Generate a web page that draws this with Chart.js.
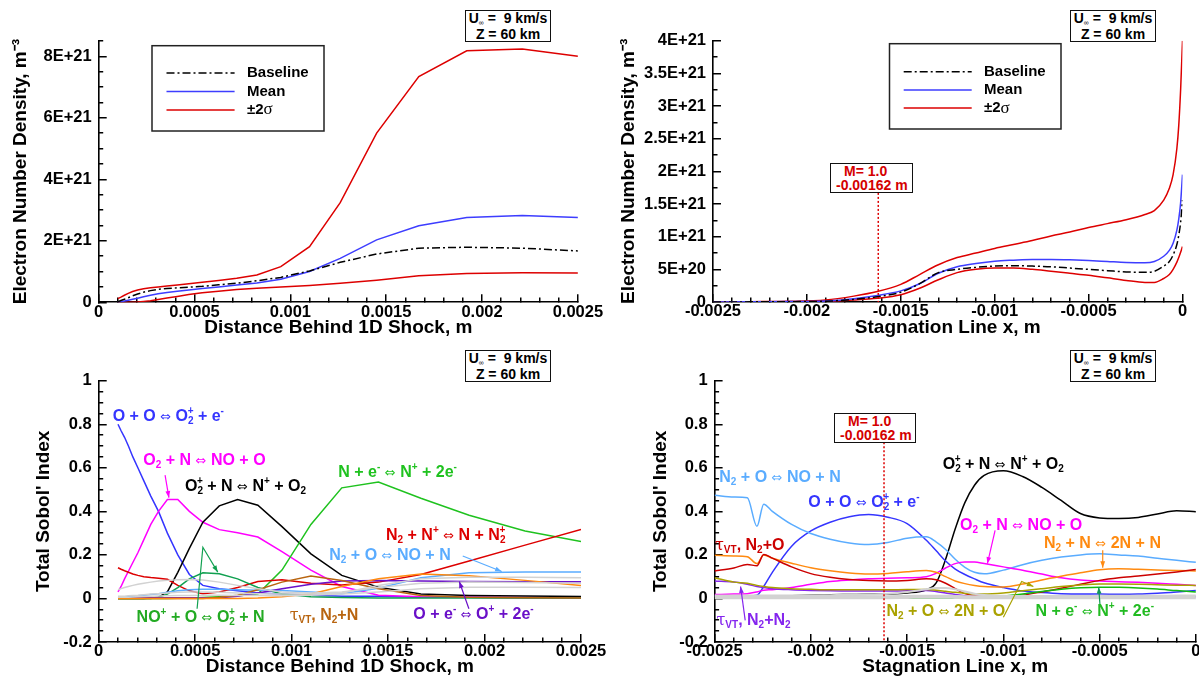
<!DOCTYPE html>
<html>
<head>
<meta charset="utf-8">
<title>Electron number density and total Sobol' indices</title>
<script src="https://cdn.jsdelivr.net/npm/chart.js@4/dist/chart.umd.min.js"></script>
<style>
html,body{margin:0;padding:0;background:#fff;}
#fig{position:relative;width:1199px;height:679px;overflow:hidden;background:#fff;
  font-family:'Liberation Sans',Arial,Helvetica,sans-serif;}
#fig canvas{position:absolute;}
.lbl{position:absolute;font-weight:bold;font-size:16px;line-height:16px;white-space:nowrap;}
.lbl sub,.lbl sup,.info sub{position:relative;vertical-align:baseline;line-height:0;font-size:10px;}
.lbl sup{top:-7px;}
.lbl sub{top:3px;}
.lbl .k{margin-left:-6px;}
.ar{font-family:'DejaVu Sans',sans-serif;font-weight:normal;font-size:13px;line-height:0;}
.tau{font-family:'DejaVu Serif','Liberation Serif',serif;font-weight:normal;line-height:0;}
.info{position:absolute;box-sizing:border-box;width:86px;height:32px;border:1.5px solid #111;background:#fff;
  font-weight:bold;font-size:14px;line-height:15.5px;text-align:center;}
.info sub{font-size:7px;top:2px;font-weight:normal;}
.mach{position:absolute;box-sizing:border-box;border:1.5px solid #111;background:#fff;color:#d40000;
  font-weight:bold;font-size:14px;line-height:14px;white-space:nowrap;}
</style>
</head>
<body>
<div id="fig">
  <canvas id="neShock" width="620" height="340" style="left:0;top:0"></canvas>
  <canvas id="neStag" width="599" height="340" style="left:600px;top:0"></canvas>
  <canvas id="sobolShock" width="620" height="339" style="left:0;top:340px"></canvas>
  <canvas id="sobolStag" width="599" height="339" style="left:600px;top:340px"></canvas>
</div>
<script>
const FONT = "'Liberation Sans', Arial, Helvetica, sans-serif";
const fig = document.getElementById('fig');

// ---------- electron number density behind the 1D shock (1e21 m^-3)
const shockX = [0.0001, 0.000116, 0.000134, 0.000154, 0.000177, 0.000203, 0.000234, 0.00027,
  0.00031, 0.000356, 0.00041, 0.00047, 0.00054, 0.000625, 0.00072, 0.000825, 0.00095, 0.0011,
  0.00126, 0.00145, 0.00167, 0.00192, 0.00221, 0.0025];
const neBaseShock = [0.02, 0.06, 0.10, 0.15, 0.21, 0.27, 0.33, 0.38, 0.42, 0.45, 0.47, 0.49,
  0.52, 0.57, 0.62, 0.70, 0.81, 1.02, 1.30, 1.57, 1.76, 1.79, 1.76, 1.67];
const neMeanShock = [0.0, 0.02, 0.04, 0.07, 0.10, 0.13, 0.18, 0.23, 0.28, 0.32, 0.36, 0.40,
  0.45, 0.50, 0.56, 0.63, 0.75, 1.00, 1.43, 2.03, 2.49, 2.76, 2.82, 2.76];
const neHiShock = [0.12, 0.17, 0.23, 0.29, 0.35, 0.40, 0.44, 0.47, 0.50, 0.53, 0.56, 0.60,
  0.65, 0.71, 0.78, 0.89, 1.16, 1.81, 3.24, 5.50, 7.34, 8.18, 8.24, 8.00];
const neLoShock = [0.0, 0.0, 0.0, 0.0, 0.0, 0.01, 0.03, 0.05, 0.09, 0.14, 0.19, 0.25,
  0.31, 0.36, 0.42, 0.46, 0.50, 0.55, 0.62, 0.72, 0.86, 0.94, 0.96, 0.95];

// ---------- electron number density along the stagnation line (1e21 m^-3)
const stagX = [-0.0025, -0.0023, -0.0021, -0.0019, -0.00175, -0.001625, -0.0015, -0.0014,
  -0.0013, -0.0012, -0.0011, -0.001, -0.0009, -0.0008, -0.0007, -0.0006, -0.0005, -0.0004,
  -0.0003, -0.0002, -0.00015, -0.0001, -0.00007, -0.00005, -0.00003, -0.00002, -0.00001, 0];
const neBaseStag = [0, 0.002, 0.005, 0.012, 0.04, 0.08, 0.15, 0.28, 0.45, 0.50, 0.53, 0.55,
  0.556, 0.55, 0.54, 0.52, 0.50, 0.48, 0.46, 0.455, 0.47, 0.55, 0.62, 0.72, 0.88, 1.02, 1.22, 1.56];
const neMeanStag = [0, 0.003, 0.006, 0.015, 0.05, 0.10, 0.17, 0.28, 0.44, 0.54, 0.59, 0.625,
  0.64, 0.65, 0.65, 0.645, 0.635, 0.62, 0.605, 0.60, 0.62, 0.70, 0.79, 0.90, 1.10, 1.27, 1.52, 1.95];
const neHiStag = [0, 0.005, 0.01, 0.03, 0.09, 0.16, 0.27, 0.42, 0.57, 0.68, 0.75, 0.82,
  0.88, 0.94, 1.01, 1.07, 1.14, 1.20, 1.26, 1.34, 1.40, 1.56, 1.74, 1.95, 2.35, 2.70, 3.25, 4.0];
const neLoStag = [0, 0.002, 0.004, 0.01, 0.03, 0.056, 0.11, 0.21, 0.34, 0.45, 0.50, 0.52,
  0.52, 0.50, 0.47, 0.44, 0.41, 0.37, 0.33, 0.30, 0.30, 0.36, 0.42, 0.50, 0.61, 0.68, 0.76, 0.85];

// ---------- total Sobol' indices behind the 1D shock (same x as shockX)
const siOOShock = [0.80, 0.77, 0.74, 0.70, 0.65, 0.60, 0.54, 0.47, 0.40, 0.30, 0.20, 0.11,
  0.06, 0.045, 0.035, 0.025, 0.02, 0.015, 0.01, 0.01, 0.005, 0.005, 0.003, 0.003];
const siO2NShock = [0.03, 0.055, 0.09, 0.125, 0.165, 0.21, 0.27, 0.34, 0.40, 0.454, 0.454, 0.40,
  0.35, 0.316, 0.302, 0.282, 0.215, 0.13, 0.055, 0.015, 0.008, 0.005, 0.004, 0.004];
const siO2pNShock = [0, 0, 0, 0, 0, 0, 0, 0.002, 0.006, 0.03, 0.12, 0.23,
  0.35, 0.425, 0.454, 0.428, 0.33, 0.205, 0.106, 0.052, 0.021, 0.014, 0.011, 0.009];
const siNeShock = [0, 0, 0, 0, 0, 0, 0, 0, 0, 0, 0.001, 0.002,
  0.004, 0.008, 0.012, 0.02, 0.13, 0.34, 0.508, 0.535, 0.46, 0.382, 0.31, 0.262];
const siN2NpShock = [0.141, 0.134, 0.127, 0.12, 0.112, 0.106, 0.10, 0.096, 0.093, 0.088, 0.06, 0.035,
  0.022, 0.03, 0.05, 0.078, 0.086, 0.07, 0.062, 0.075, 0.11, 0.172, 0.245, 0.317];
const siNOpShock = [0, 0, 0, 0, 0, 0, 0, 0, 0.005, 0.02, 0.05, 0.09,
  0.118, 0.113, 0.09, 0.05, 0.02, 0.008, 0.004, 0.002, 0.002, 0.002, 0.002, 0.002];
const siN2OShock = [0.003, 0.005, 0.006, 0.008, 0.01, 0.012, 0.015, 0.018, 0.022, 0.028, 0.035, 0.04,
  0.042, 0.042, 0.04, 0.038, 0.037, 0.03, 0.022, 0.047, 0.095, 0.118, 0.122, 0.122];
const siN2NShock = [0, 0, 0, 0, 0, 0, 0, 0, 0, 0, 0, 0,
  0, 0, 0, 0.002, 0.008, 0.02, 0.055, 0.09, 0.112, 0.104, 0.083, 0.06];
const siTauN2NShock = [0, 0, 0, 0, 0, 0, 0, 0, 0, 0, 0, 0,
  0, 0.005, 0.015, 0.04, 0.075, 0.103, 0.082, 0.045, 0.014, 0.005, 0.003, 0.002];
const siOeShock = [0.003, 0.003, 0.003, 0.003, 0.003, 0.003, 0.003, 0.003, 0.003, 0.003, 0.003, 0.003,
  0.003, 0.003, 0.01, 0.025, 0.045, 0.065, 0.08, 0.083, 0.08, 0.078, 0.077, 0.077];
const siOtherShockA = [0.04, 0.045, 0.05, 0.055, 0.06, 0.065, 0.07, 0.075, 0.08, 0.083, 0.086, 0.087,
  0.085, 0.075, 0.06, 0.045, 0.03, 0.025, 0.03, 0.05, 0.07, 0.075, 0.073, 0.07];
const siOtherShockB = [0.01, 0.01, 0.01, 0.012, 0.014, 0.015, 0.017, 0.02, 0.022, 0.025, 0.028, 0.03,
  0.03, 0.028, 0.025, 0.022, 0.02, 0.02, 0.025, 0.06, 0.09, 0.097, 0.097, 0.095];
const siOtherShockC = [0.005, 0.005, 0.006, 0.006, 0.007, 0.008, 0.009, 0.01, 0.011, 0.012, 0.013, 0.014,
  0.015, 0.015, 0.014, 0.013, 0.012, 0.015, 0.02, 0.03, 0.045, 0.052, 0.052, 0.05];

// ---------- total Sobol' indices along the stagnation line
const sobStagX = [-0.0025, -0.0024, -0.00233, -0.00228, -0.002245, -0.0022, -0.0021, -0.002,
  -0.0019, -0.0018, -0.0017, -0.0016, -0.0015, -0.0014, -0.00135, -0.0013, -0.00125, -0.0012,
  -0.00115, -0.0011, -0.001, -0.0009, -0.0008, -0.0007, -0.0006, -0.0005, -0.0004, -0.0003,
  -0.0002, -0.0001, 0];
const siN2OStag = [0.474, 0.466, 0.462, 0.331, 0.433, 0.40, 0.34, 0.298, 0.272, 0.255, 0.248,
  0.257, 0.277, 0.283, 0.26, 0.225, 0.18, 0.143, 0.12, 0.113, 0.13, 0.155, 0.175, 0.19, 0.2,
  0.205, 0.2, 0.195, 0.185, 0.175, 0.166];
const siOOStag = [0.01, 0.01, 0.012, 0.015, 0.055, 0.12, 0.24, 0.31, 0.35, 0.375, 0.385,
  0.373, 0.344, 0.267, 0.22, 0.172, 0.135, 0.11, 0.09, 0.072, 0.05, 0.034, 0.027, 0.022, 0.02,
  0.02, 0.019, 0.02, 0.024, 0.03, 0.037];
const siO2pNStag = [0.005, 0.004, 0.003, 0.003, 0.004, 0.008, 0.012, 0.015, 0.017, 0.018, 0.019,
  0.02, 0.025, 0.04, 0.07, 0.18, 0.32, 0.44, 0.52, 0.565, 0.586, 0.56, 0.51, 0.45, 0.39,
  0.37, 0.367, 0.372, 0.388, 0.403, 0.398];
const siO2NStag = [0.018, 0.02, 0.022, 0.03, 0.038, 0.04, 0.05, 0.065, 0.078, 0.085, 0.09,
  0.093, 0.095, 0.1, 0.115, 0.14, 0.16, 0.167, 0.167, 0.16, 0.145, 0.13, 0.112, 0.095, 0.085,
  0.08, 0.077, 0.074, 0.07, 0.065, 0.06];
const siN2NStag = [0.198, 0.195, 0.192, 0.16, 0.2, 0.185, 0.162, 0.141, 0.127, 0.117, 0.112,
  0.115, 0.123, 0.128, 0.12, 0.1, 0.08, 0.068, 0.06, 0.055, 0.053, 0.066, 0.085, 0.102, 0.118,
  0.132, 0.136, 0.134, 0.131, 0.128, 0.126];
const siTauN2OStag = [0.126, 0.14, 0.156, 0.15, 0.202, 0.185, 0.145, 0.114, 0.097, 0.087, 0.082,
  0.08, 0.083, 0.09, 0.086, 0.07, 0.045, 0.022, 0.012, 0.008, 0.007, 0.015, 0.03, 0.047, 0.065,
  0.083, 0.095, 0.103, 0.112, 0.122, 0.133];
const siN2O2NStag = [0.095, 0.075, 0.07, 0.06, 0.055, 0.05, 0.045, 0.042, 0.04, 0.04, 0.04,
  0.04, 0.041, 0.041, 0.038, 0.033, 0.028, 0.024, 0.021, 0.02, 0.025, 0.035, 0.045, 0.055, 0.062,
  0.066, 0.066, 0.065, 0.063, 0.061, 0.06];
const siTauN2N2Stag = [0.08, 0.075, 0.065, 0.055, 0.05, 0.045, 0.04, 0.037, 0.035, 0.034, 0.034,
  0.034, 0.035, 0.036, 0.032, 0.025, 0.018, 0.012, 0.008, 0.005, 0.004, 0.004, 0.005, 0.005, 0.006,
  0.006, 0.006, 0.007, 0.007, 0.008, 0.008];
const siNeStag = [0.002, 0.002, 0.002, 0.002, 0.002, 0.002, 0.002, 0.002, 0.002, 0.002, 0.002,
  0.002, 0.002, 0.002, 0.002, 0.002, 0.002, 0.002, 0.002, 0.004, 0.01, 0.02, 0.032, 0.042, 0.049,
  0.052, 0.051, 0.048, 0.043, 0.036, 0.03];
const siOtherStagA = [0.006, 0.006, 0.006, 0.006, 0.006, 0.006, 0.006, 0.006, 0.006, 0.006, 0.006,
  0.006, 0.007, 0.008, 0.008, 0.008, 0.007, 0.006, 0.006, 0.005, 0.005, 0.005, 0.005, 0.005, 0.005,
  0.005, 0.005, 0.005, 0.005, 0.005, 0.005];
const siOtherStagB = [0.014, 0.014, 0.014, 0.014, 0.014, 0.014, 0.014, 0.014, 0.015, 0.016, 0.018,
  0.022, 0.03, 0.042, 0.048, 0.048, 0.042, 0.032, 0.022, 0.016, 0.012, 0.011, 0.011, 0.011, 0.011,
  0.012, 0.012, 0.012, 0.012, 0.013, 0.013];

// sonic point on the stagnation line
const sonicX = -0.00162;

// ---------- axes
const shockTicks = [0, 0.0005, 0.001, 0.0015, 0.002, 0.0025];
const shockTickLabels = ['0', '0.0005', '0.001', '0.0015', '0.002', '0.0025'];
const stagTicks = [-0.0025, -0.002, -0.0015, -0.001, -0.0005, 0];
const stagTickLabels = ['-0.0025', '-0.002', '-0.0015', '-0.001', '-0.0005', '0'];
const neTicksShock = [0, 2, 4, 6, 8];
const neTickLabelsShock = ['0', '2E+21', '4E+21', '6E+21', '8E+21'];
const neTicksStag = [0, 0.5, 1, 1.5, 2, 2.5, 3, 3.5, 4];
const neTickLabelsStag = ['0', '5E+20', '1E+21', '1.5E+21', '2E+21', '2.5E+21', '3E+21', '3.5E+21', '4E+21'];
const sobolTicks = [-0.2, 0, 0.2, 0.4, 0.6, 0.8, 1];
const sobolTickLabels = ['-0.2', '0', '0.2', '0.4', '0.6', '0.8', '1'];

const C = {
  blue: '#3535ff', mean: '#3d3dff', red: '#dd0000', magenta: '#ff00ff', green: '#1fc21f',
  teal: '#10a050', ltblue: '#5aacff', orange: '#ff8a10', brown: '#b8640f', purple: '#6a10c8',
  olive: '#aaa200', violet: '#8526ee', gray: '#d2d2d2'
};

// leader arrows from the reaction labels to their curves
const leaders = {
  id: 'leaders',
  afterDatasetsDraw(chart, args, o) {
    if (!o || !o.items) return;
    const {ctx, scales: {x, y}} = chart;
    ctx.save();
    ctx.lineWidth = 1.2;
    for (const it of o.items) {
      const pts = it.pts.map(([a, b]) => [x.getPixelForValue(a), y.getPixelForValue(b)]);
      ctx.strokeStyle = ctx.fillStyle = it.color;
      ctx.beginPath();
      pts.forEach(([px, py], i) => i ? ctx.lineTo(px, py) : ctx.moveTo(px, py));
      ctx.stroke();
      const [x1, y1] = pts[pts.length - 2], [x2, y2] = pts[pts.length - 1];
      const ang = Math.atan2(y2 - y1, x2 - x1);
      ctx.beginPath();
      ctx.moveTo(x2, y2);
      ctx.lineTo(x2 - 7 * Math.cos(ang - 0.35), y2 - 7 * Math.sin(ang - 0.35));
      ctx.lineTo(x2 - 7 * Math.cos(ang + 0.35), y2 - 7 * Math.sin(ang + 0.35));
      ctx.closePath();
      ctx.fill();
    }
    ctx.restore();
  }
};

// boxed legend placed inside the plot
const boxLegend = {
  id: 'boxLegend',
  afterDraw(chart, args, o) {
    if (!o || !o.rows) return;
    const ctx = chart.ctx;
    ctx.save();
    ctx.fillStyle = '#fff';
    ctx.fillRect(o.left, o.top, o.w, o.h);
    ctx.strokeStyle = '#222';
    ctx.lineWidth = 1.5;
    ctx.strokeRect(o.left, o.top, o.w, o.h);
    o.rows.forEach((r, i) => {
      const ds = chart.data.datasets[r];
      const yy = o.y0 + i * o.dy;
      ctx.strokeStyle = ds.borderColor;
      ctx.lineWidth = 1.5;
      ctx.setLineDash(ds.borderDash || []);
      ctx.beginPath();
      ctx.moveTo(o.x0, yy);
      ctx.lineTo(o.x1, yy);
      ctx.stroke();
      ctx.setLineDash([]);
      ctx.fillStyle = '#000';
      ctx.textBaseline = 'middle';
      let tx = o.tx;
      for (const ch of ds.label) {
        ctx.font = /[\u03b1-\u03c9]/.test(ch) ? "17px 'Liberation Serif', serif" : 'bold 15px ' + FONT;
        ctx.fillText(ch, tx, yy);
        tx += ctx.measureText(ch).width;
      }
    });
    ctx.restore();
  }
};

// dotted marker at the sonic point
const sonicLine = {
  id: 'sonicLine',
  afterDatasetsDraw(chart, args, o) {
    if (!o || o.x === undefined) return;
    const {ctx, chartArea: a, scales: {x, y}} = chart;
    const px = x.getPixelForValue(o.x);
    ctx.save();
    ctx.strokeStyle = C.red;
    ctx.lineWidth = 1.5;
    ctx.setLineDash([2, 2]);
    ctx.beginPath();
    ctx.moveTo(px, y.getPixelForValue(o.top));
    ctx.lineTo(px, a.bottom);
    ctx.stroke();
    ctx.restore();
  }
};

function line(label, xs, ys, color, extra) {
  return Object.assign({
    label, data: xs.map((x, i) => ({x, y: ys[i]})),
    borderColor: color, borderWidth: 1.5, pointRadius: 0, fill: false, tension: 0
  }, extra || {});
}
const smooth = {cubicInterpolationMode: 'monotone'};

// linear axis with labelled major ticks and unlabelled minor ticks, all pointing inward
function axis(dir, a, frame, canvasH, minor) {
  const tol = minor * 1e-3;
  const majorIndex = v => a.ticks.findIndex(t => Math.abs(t - v) < tol);
  const values = [];
  const n = Math.round((a.max - a.min) / minor);
  for (let i = 0; i <= n; i++) {
    const v = a.min + i * minor;
    const k = majorIndex(v);
    values.push(k < 0 ? v : a.ticks[k]);
  }
  const TL = 8;
  return {
    type: 'linear', min: a.min, max: a.max, bounds: 'data',
    grid: {
      display: true, drawOnChartArea: false, drawTicks: true, tickLength: -TL,
      color: '#000', lineWidth: 1.5, tickWidth: 1.5,
      // minor ticks: only the part next to the axis line is stroked
      tickBorderDash: c => (!c.tick || majorIndex(c.tick.value) >= 0) ? [] :
        (dir === 'x' ? [5, 40] : [0, 3.5, 40])
    },
    border: {display: true, color: '#000', width: 1.6},
    afterBuildTicks: s => { s.ticks = values.map(value => ({value})); },
    afterFit: s => {
      if (dir === 'x') s.height = canvasH - frame.bottom; else s.width = frame.left;
      s.paddingLeft = s.paddingRight = s.paddingTop = s.paddingBottom = 0;
    },
    ticks: {
      autoSkip: false, maxRotation: 0, minRotation: 0, padding: dir === 'x' ? TL : TL + 7, color: '#000',
      font: {family: FONT, size: 16.5, weight: 'bold'},
      callback: v => { const k = majorIndex(v); return k < 0 ? '' : a.labels[k]; }
    },
    title: {
      display: true, text: a.title, color: '#000',
      font: {family: FONT, size: 19, weight: 'bold'},
      padding: dir === 'x' ? {top: 0, bottom: a.titlePad} : {top: a.titlePad, bottom: 0}
    }
  };
}

function makeChart(id, frame, xa, ya, steps, datasets, extra) {
  const cv = document.getElementById(id);
  return new Chart(cv, {
    type: 'line',
    data: {datasets},
    options: {
      responsive: false, animation: false, events: [],
      layout: {autoPadding: false, padding: {left: 0, top: frame.top, right: cv.width - frame.right, bottom: 0}},
      plugins: Object.assign({legend: {display: false}, tooltip: {enabled: false}}, extra),
      scales: {
        x: axis('x', xa, frame, cv.height, steps.x),
        y: axis('y', ya, frame, cv.height, steps.y)
      }
    },
    plugins: [leaders, sonicLine, boxLegend]
  });
}

const neTitle = 'Electron Number Density, m\u207b\u00b3';
const sobolTitle = "Total Sobol' Index";
const shockAxis = {min: 0, max: 0.0025, ticks: shockTicks, labels: shockTickLabels,
  title: 'Distance Behind 1D Shock, m', titlePad: 0.5};
const stagAxis = {min: -0.0025, max: 0, ticks: stagTicks, labels: stagTickLabels,
  title: 'Stagnation Line x, m', titlePad: 0.5};
const dashDot = {borderDash: [8, 3, 2, 3]};

// top left: density behind the 1D shock
makeChart('neShock', {left: 98.7, right: 577.9, top: 40.9, bottom: 302.3}, shockAxis,
  {min: 0, max: 8.5, ticks: neTicksShock, labels: neTickLabelsShock, title: neTitle, titlePad: 9.6},
  {x: 0.0001, y: 0.5},
  [
    line('Baseline', shockX, neBaseShock, '#000', dashDot),
    line('Mean', shockX, neMeanShock, C.mean),
    line('\u00b12\u03c3', shockX, neHiShock, C.red),
    line('', shockX, neLoShock, C.red)
  ],
  {boxLegend: {left: 152, top: 45.7, w: 172, h: 85.3, x0: 166.5, x1: 234.6, tx: 247, y0: 73, dy: 18.5, rows: [0, 1, 2]}});

// top right: density along the stagnation line
makeChart('neStag', {left: 113, right: 582.5, top: 40.7, bottom: 302}, stagAxis,
  {min: 0, max: 4, ticks: neTicksStag, labels: neTickLabelsStag, title: neTitle, titlePad: 17.2},
  {x: 0.0001, y: 0.25},
  [
    line('Baseline', stagX, neBaseStag, '#000', Object.assign({}, dashDot, smooth)),
    line('Mean', stagX, neMeanStag, C.mean, smooth),
    line('\u00b12\u03c3', stagX, neHiStag, C.red, smooth),
    line('', stagX, neLoStag, C.red, smooth)
  ],
  {sonicLine: {x: sonicX, top: 1.67},
   boxLegend: {left: 289.5, top: 43.7, w: 171.5, h: 85.3, x0: 303.7, x1: 371.7, tx: 384, y0: 71.7, dy: 18.2, rows: [0, 1, 2]}});

// bottom left: Sobol' indices behind the 1D shock
makeChart('sobolShock', {left: 98.7, right: 581, top: 40.7, bottom: 302}, shockAxis,
  {min: -0.2, max: 1, ticks: sobolTicks, labels: sobolTickLabels, title: sobolTitle, titlePad: 32.6},
  {x: 0.0001, y: 0.05},
  [
    line('other A', shockX, siOtherShockA, C.gray),
    line('other B', shockX, siOtherShockB, C.gray),
    line('other C', shockX, siOtherShockC, C.gray),
    line('N2 + N <-> 2N + N', shockX, siN2NShock, C.orange),
    line('tauVT N2+N', shockX, siTauN2NShock, C.brown),
    line('O + e- <-> O+ + 2e-', shockX, siOeShock, C.purple),
    line('N2 + O <-> NO + N', shockX, siN2OShock, C.ltblue),
    line('NO+ + O <-> O2+ + N', shockX, siNOpShock, C.teal),
    line('N2 + N+ <-> N + N2+', shockX, siN2NpShock, C.red),
    line('N + e- <-> N+ + 2e-', shockX, siNeShock, C.green),
    line('O2+ + N <-> N+ + O2', shockX, siO2pNShock, '#000'),
    line('O2 + N <-> NO + O', shockX, siO2NShock, C.magenta),
    line('O + O <-> O2+ + e-', shockX, siOOShock, C.blue)
  ],
  {leaders: {items: [
     {color: C.magenta, pts: [[0.000344, 0.566], [0.000364, 0.463]]},
     {color: C.teal, pts: [[0.00051, -0.047], [0.00054, 0.235], [0.000617, 0.121]]},
     {color: C.ltblue, pts: [[0.001887, 0.195], [0.002089, 0.124]]},
     {color: C.purple, pts: [[0.001919, -0.047], [0.001869, 0.078]]}
   ]}});

// bottom right: Sobol' indices along the stagnation line
makeChart('sobolStag', {left: 114.6, right: 595.9, top: 40.7, bottom: 302}, stagAxis,
  {min: -0.2, max: 1, ticks: sobolTicks, labels: sobolTickLabels, title: sobolTitle, titlePad: 49.6},
  {x: 0.0001, y: 0.05},
  [
    line('other A', sobStagX, siOtherStagA, C.gray, Object.assign({borderWidth: 4}, smooth)),
    line('other B', sobStagX, siOtherStagB, C.gray, Object.assign({borderWidth: 2}, smooth)),
    line('N + e- <-> N+ + 2e-', sobStagX, siNeStag, '#11bb11', smooth),
    line('N2 + O <-> 2N + O', sobStagX, siN2O2NStag, C.olive, smooth),
    line('tauVT N2+N2', sobStagX, siTauN2N2Stag, C.violet, smooth),
    line('tauVT N2+O', sobStagX, siTauN2OStag, '#cc0000', smooth),
    line('N2 + N <-> 2N + N', sobStagX, siN2NStag, C.orange, smooth),
    line('O2 + N <-> NO + O', sobStagX, siO2NStag, C.magenta, smooth),
    line('N2 + O <-> NO + N', sobStagX, siN2OStag, C.ltblue, smooth),
    line('O + O <-> O2+ + e-', sobStagX, siOOStag, C.blue, smooth),
    line('O2+ + N <-> N+ + O2', sobStagX, siO2pNStag, '#000', smooth)
  ],
  {sonicLine: {x: sonicX, top: 0.717},
   leaders: {items: [
     {color: C.violet, pts: [[-0.002341, -0.101], [-0.002365, 0.055]]},
     {color: C.magenta, pts: [[-0.001043, 0.313], [-0.001083, 0.16]]},
     {color: C.orange, pts: [[-0.000484, 0.221], [-0.000484, 0.141]]},
     {color: C.olive, pts: [[-0.0010, -0.086], [-0.000905, 0.078], [-0.000844, 0.055]]},
     {color: '#119955', pts: [[-0.000498, -0.032], [-0.000505, 0.052]]}
   ]}});

// ---------- text annotations
const sub = t => `<sub>${t}</sub>`;
const sup = t => `<sup>${t}</sup>`;
const ion2 = el => `${el}<sub>2</sub><sup class="k">+</sup>`;
const AR = '<span class="ar">\u21d4</span>';
const TAU = '<span class="tau">\u03c4</span><sub>VT</sub>';
const R = {
  OO: `O + O ${AR} ${ion2('O')} + e${sup('-')}`,
  O2N: `O${sub(2)} + N ${AR} NO + O`,
  O2pN: `${ion2('O')} + N ${AR} N${sup('+')} + O${sub(2)}`,
  Ne: `N + e${sup('-')} ${AR} N${sup('+')} + 2e${sup('-')}`,
  N2Np: `N${sub(2)} + N${sup('+')} ${AR} N + ${ion2('N')}`,
  N2O: `N${sub(2)} + O ${AR} NO + N`,
  NOp: `NO${sup('+')} + O ${AR} ${ion2('O')} + N`,
  tauN2N: `${TAU}, N${sub(2)}+N`,
  Oe: `O + e${sup('-')} ${AR} O${sup('+')} + 2e${sup('-')}`,
  tauN2O: `${TAU}, N${sub(2)}+O`,
  N2N: `N${sub(2)} + N ${AR} 2N + N`,
  N2O2N: `N${sub(2)} + O ${AR} 2N + O`,
  tauN2N2: `${TAU}, N${sub(2)}+N${sub(2)}`
};
const notes = [
  [R.OO, 112.7, 421.7, C.blue],
  [R.O2N, 143.3, 465, C.magenta],
  [R.O2pN, 185, 491.7, '#000'],
  [R.Ne, 338.3, 477.3, C.green],
  [R.N2Np, 386, 540.7, C.red],
  [R.N2O, 329.3, 560, C.ltblue],
  [R.NOp, 136.6, 622.7, '#22aa22'],
  [R.tauN2N, 289.7, 620.7, C.brown],
  [R.Oe, 413.3, 619.3, C.purple],
  [R.N2O, 719.3, 482.7, C.ltblue],
  [R.OO, 808.3, 507.7, C.blue],
  [R.tauN2O, 715, 550, '#cc0000'],
  [R.O2pN, 942.7, 469.3, '#000'],
  [R.O2N, 960, 530, C.magenta],
  [R.N2N, 1044, 548.3, C.orange],
  [R.N2O2N, 886.5, 616.7, C.olive],
  [R.Ne, 1035.4, 616.7, '#22bb22'],
  [R.tauN2N2, 716.5, 625, C.violet]
];
notes.forEach(([html, x, base, color]) => {
  const d = document.createElement('div');
  d.className = 'lbl';
  d.innerHTML = html;
  d.style.left = x + 'px';
  d.style.top = (base - 13.5) + 'px';
  d.style.color = color;
  fig.appendChild(d);
});

// flight condition boxes
[[465, 10], [1070, 10], [465, 350], [1070, 350]].forEach(([x, y]) => {
  const d = document.createElement('div');
  d.className = 'info';
  d.style.left = x + 'px';
  d.style.top = y + 'px';
  d.innerHTML = 'U<sub>\u221e</sub> =&nbsp; 9 km/s<br>Z = 60 km';
  fig.appendChild(d);
});

// sonic point boxes
[[830, 163, 83, 30], [834, 413, 82, 29.5]].forEach(([x, y, w, h]) => {
  const d = document.createElement('div');
  d.className = 'mach';
  Object.assign(d.style, {left: x + 'px', top: y + 'px', width: w + 'px', height: h + 'px'});
  d.innerHTML = '<div style="padding-left:13px">M= 1.0</div><div style="padding-left:5px">' +
    sonicX + ' m</div>';
  fig.appendChild(d);
});
</script>
</body>
</html>
